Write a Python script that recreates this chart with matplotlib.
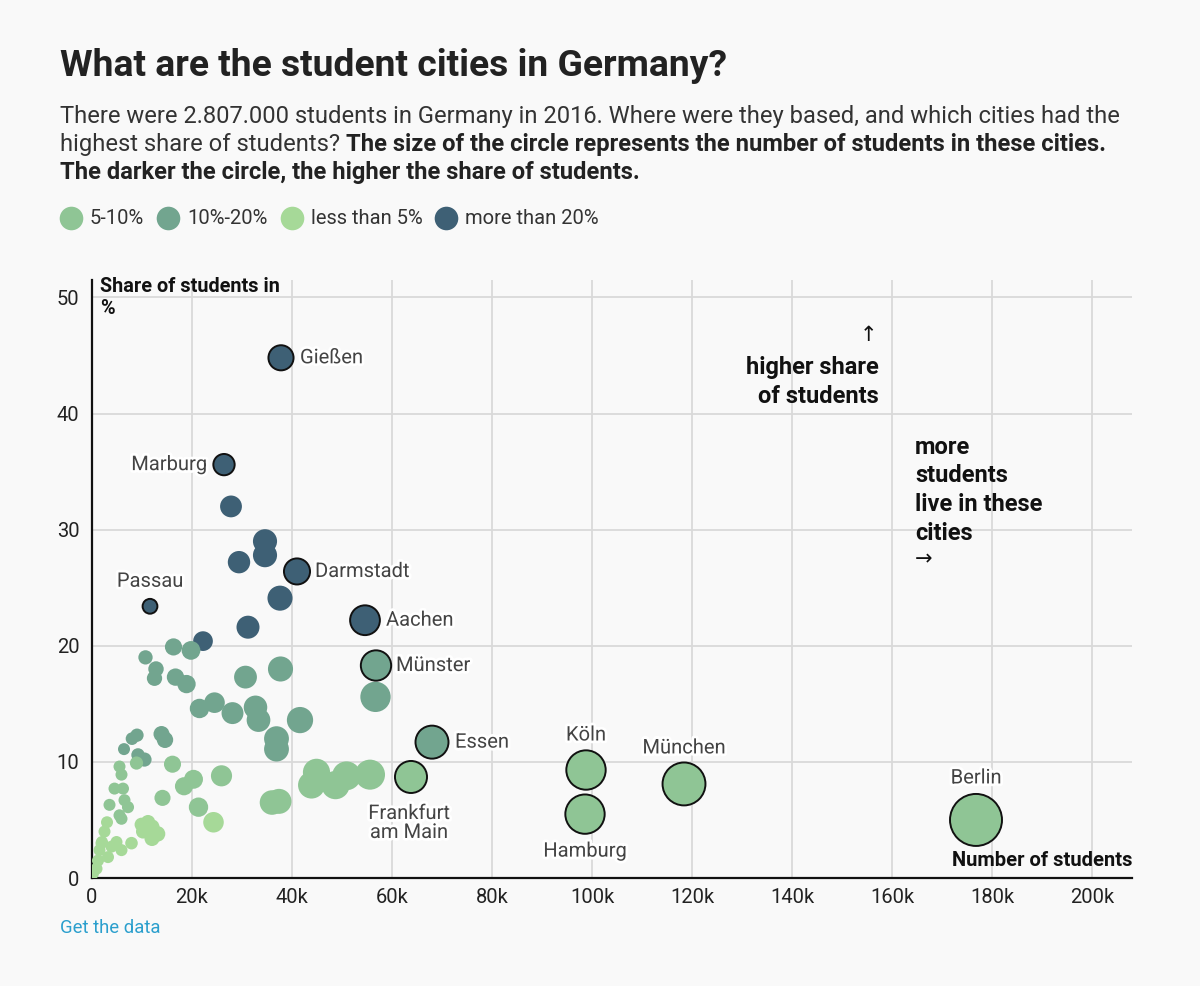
import matplotlib
matplotlib.use("Agg")
import matplotlib.pyplot as plt
import matplotlib.patheffects as pe
from matplotlib.lines import Line2D
import numpy as np

plt.rcParams['font.family'] = ['Roboto', 'DejaVu Sans']

# students in thousands, share of students in %
students = [27.8, 34.6, 34.6, 29.4, 37.6, 31.2, 22.2,
            16.3, 19.8, 10.7, 12.8, 12.5, 16.7, 18.9, 30.7, 37.7, 56.7,
            21.5, 24.5, 28.1, 32.7, 33.3, 41.6, 36.9, 36.9, 13.9, 14.6,
            9.0, 8.0, 6.4, 9.2, 10.5,
            16.1, 8.9, 20.3, 18.4, 25.9, 14.1, 21.3, 36.0, 37.4,
            44.9, 43.9, 48.7, 50.9, 55.6,
            5.5, 5.9, 4.5, 6.2, 3.5, 6.5, 7.2, 5.5, 5.9,
            24.3, 9.9, 11.2, 12.0, 10.2, 3.0, 2.5, 2.0, 1.9, 3.9, 5.9, 7.9,
            1.5, 3.2, 1.2, 0.9, 0.2, 4.9, 12.0, 13.1]
share = [32.0, 29.0, 27.8, 27.2, 24.1, 21.6, 20.4,
         19.9, 19.6, 19.0, 18.0, 17.2, 17.3, 16.7, 17.3, 18.0, 15.6,
         14.6, 15.1, 14.2, 14.7, 13.6, 13.6, 12.0, 11.1, 12.4, 11.9,
         12.3, 12.0, 11.1, 10.6, 10.2,
         9.8, 9.9, 8.5, 7.9, 8.8, 6.9, 6.1, 6.5, 6.6,
         9.1, 8.0, 8.0, 8.8, 8.9,
         9.6, 8.9, 7.7, 7.7, 6.3, 6.7, 6.1, 5.4, 5.1,
         4.8, 4.6, 4.8, 4.4, 4.0, 4.8, 4.0, 3.1, 3.0, 2.7, 2.4, 3.0,
         2.4, 1.8, 1.5, 0.8, 0.4, 3.1, 3.4, 3.8]

cities = ['Gießen', 'Marburg', 'Passau', 'Darmstadt', 'Aachen', 'Münster',
          'Essen', 'Frankfurt\nam Main', 'Köln', 'Hamburg', 'München', 'Berlin']
city_students = [37.8, 26.4, 11.6, 41.0, 54.6, 56.8, 68.0, 63.8, 98.8, 98.6, 118.4, 176.8]
city_share = [44.8, 35.6, 23.4, 26.4, 22.2, 18.3, 11.7, 8.7, 9.3, 5.5, 8.1, 5.0]

legend_labels = ['5-10%', '10%-20%', 'less than 5%', 'more than 20%']
legend_colors = ['#8fc595', '#72a58f', '#a6d998', '#3e6075']

x_ticks = [0, 20, 40, 60, 80, 100, 120, 140, 160, 180, 200]
x_ticklabels = ['0', '20k', '40k', '60k', '80k', '100k', '120k', '140k', '160k', '180k', '200k']
y_ticks = [0, 10, 20, 30, 40, 50]


def color_for(s):
    if s > 20:
        return legend_colors[3]
    if s >= 10:
        return legend_colors[1]
    if s >= 5:
        return legend_colors[0]
    return legend_colors[2]


def size_for(n):
    r_px = max(6.0, 1.0 + 1.88 * np.sqrt(n))
    return (2 * r_px * 0.72) ** 2


bg = '#f9f9f9'
fig = plt.figure(figsize=(12, 9.86), dpi=100, facecolor=bg)
ax = fig.add_axes([92/1200, 1 - 878/986, (1132-92)/1200, (878-280)/986])
ax.set_facecolor(bg)

ax.scatter(students, share, s=[size_for(n) for n in students],
           c=[color_for(v) for v in share], linewidths=0, zorder=3)
ax.scatter(city_students, city_share, s=[size_for(n) for n in city_students],
           c=[color_for(v) for v in city_share], edgecolors='#111111',
           linewidths=1.4, zorder=4)

# label offsets in pixels
offsets = {
    'Gießen': (19, 0, 'left', 'center'),
    'Marburg': (-17, 0, 'right', 'center'),
    'Passau': (0, 25, 'center', 'center'),
    'Darmstadt': (18, 0, 'left', 'center'),
    'Aachen': (21, 0, 'left', 'center'),
    'Münster': (20, 0, 'left', 'center'),
    'Essen': (23, 0, 'left', 'center'),
    'Frankfurt\nam Main': (-2, -46, 'center', 'center'),
    'Köln': (0, 35, 'center', 'center'),
    'Hamburg': (0, -37, 'center', 'center'),
    'München': (0, 36, 'center', 'center'),
    'Berlin': (0, 42, 'center', 'center'),
}
halo = [pe.withStroke(linewidth=4, foreground='white')]
for name, xv, yv in zip(cities, city_students, city_share):
    dx, dy, ha, va = offsets[name]
    ax.annotate(name, (xv, yv), xytext=(dx, dy), textcoords='offset pixels',
                ha=ha, va=va, fontsize=14.5, color='#444444', zorder=5,
                linespacing=1.0, path_effects=halo)

ax.set_xlim(0, 208)
ax.set_ylim(0, 51.5)
ax.set_xticks(x_ticks)
ax.set_xticklabels(x_ticklabels)
ax.set_yticks(y_ticks)
ax.tick_params(length=0, labelsize=14.5, colors='#222222')
ax.tick_params(axis='y', pad=9)
ax.tick_params(axis='x', pad=7)
ax.grid(True, color='#d9d9d9', linewidth=1.3, zorder=0)
ax.set_axisbelow(True)
for sp in ['top', 'right']:
    ax.spines[sp].set_visible(False)
ax.spines['left'].set_linewidth(1.6)
ax.spines['bottom'].set_linewidth(1.6)
ax.spines['left'].set_color('#111111')
ax.spines['bottom'].set_color('#111111')

# axis titles
ax.text(0.008, 1.005, 'Share of students in\n%', transform=ax.transAxes,
        ha='left', va='top', fontsize=14.3, fontweight='bold', color='#111111',
        linespacing=1.22, zorder=6)
ax.text(1.0, 0.014, 'Number of students', transform=ax.transAxes,
        ha='right', va='bottom', fontsize=14.5, fontweight='bold', color='#111111',
        zorder=6)

# direction annotations
ax.text(157.0, 46.7, '↑', ha='right', va='center', fontsize=15, color='#111111')
ax.text(157.4, 42.7, 'higher share\nof students', ha='right', va='center',
        fontsize=17, fontweight='bold', color='#111111', linespacing=1.34)
ax.text(164.6, 38.1, 'more\nstudents\nlive in these\ncities', ha='left', va='top',
        fontsize=17, fontweight='bold', color='#111111', linespacing=1.32)
ax.text(164.6, 27.4, '→', ha='left', va='center', fontsize=15, color='#111111')

# title and subtitle
fig.text(60/1200, 1 - 66/986, 'What are the student cities in Germany?',
         ha='left', va='center', fontsize=26.8, fontweight='bold', color='#222222')
sub_fs = 17.1
fig.text(60/1200, 1 - 116/986,
         'There were 2.807.000 students in Germany in 2016. Where were they based, and which cities had the',
         ha='left', va='center', fontsize=sub_fs, color='#333333')
t2 = fig.text(60/1200, 1 - 144/986, 'highest share of students? ',
              ha='left', va='center', fontsize=sub_fs, color='#333333')
fig.canvas.draw()
bb = t2.get_window_extent(renderer=fig.canvas.get_renderer())
fig.text(bb.x1 / 1200, 1 - 144/986,
         'The size of the circle represents the number of students in these cities.',
         ha='left', va='center', fontsize=sub_fs, fontweight='bold', color='#222222')
fig.text(60/1200, 1 - 172/986, 'The darker the circle, the higher the share of students.',
         ha='left', va='center', fontsize=sub_fs, fontweight='bold', color='#222222')

# legend
leg_x = [71, 168, 292, 446]
for lx, lab, col in zip(leg_x, legend_labels, legend_colors):
    fig.add_artist(Line2D([lx/1200], [1 - 218/986], marker='o', markersize=17,
                          color=col, markeredgewidth=0, transform=fig.transFigure))
    fig.text((lx + 19)/1200, 1 - 218/986, lab, ha='left', va='center',
             fontsize=14.5, color='#333333')

fig.text(60/1200, 1 - 928/986, 'Get the data', ha='left', va='center',
         fontsize=13.3, color='#2b9fcd')

fig.savefig('out.png', dpi=100, facecolor=bg)
